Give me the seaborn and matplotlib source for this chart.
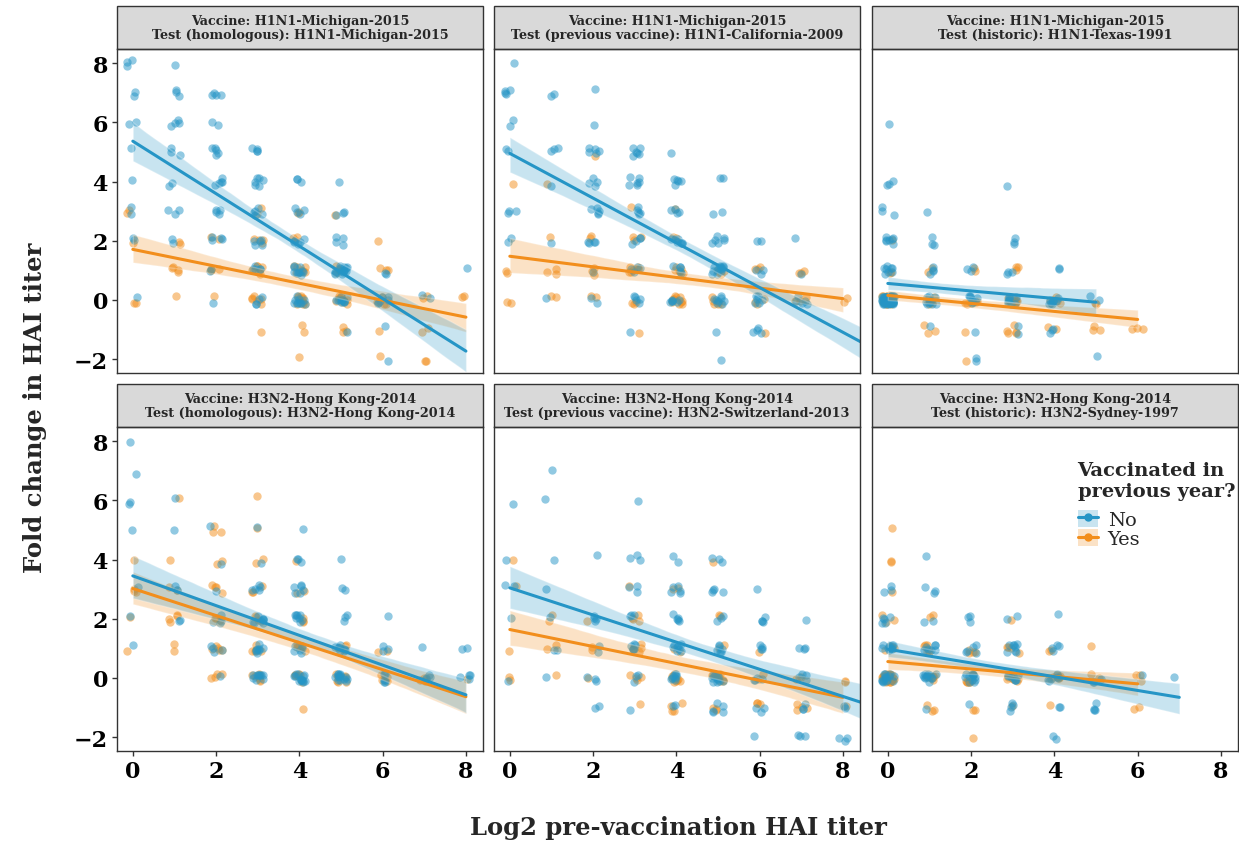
import numpy as np
import pandas as pd
import matplotlib.pyplot as plt
import seaborn as sns
from matplotlib.patches import Rectangle, Patch
from matplotlib.lines import Line2D
from matplotlib.collections import PolyCollection

# subjects per cell: rows = fold change 8 .. -2, columns = log2 pre-vaccination titer 0 .. 9
fold_levels = [8, 7, 6, 5, 4, 3, 2, 1, 0, -1, -2]
titer_levels = [0, 1, 2, 3, 4, 5, 6, 7, 8, 9]

vaccine_names = ['H1N1-Michigan-2015'] * 3 + ['H3N2-Hong Kong-2014'] * 3
test_types = ['homologous', 'previous vaccine', 'historic'] * 2
test_strains = ['H1N1-Michigan-2015', 'H1N1-California-2009', 'H1N1-Texas-1991',
                'H3N2-Hong Kong-2014', 'H3N2-Switzerland-2013', 'H3N2-Sydney-1997']

h1_homologous_no = [
    [3, 1, 0, 0, 0, 0, 0, 0, 0, 0],
    [2, 3, 4, 0, 0, 0, 0, 0, 0, 0],
    [2, 4, 2, 0, 0, 0, 0, 0, 0, 0],
    [1, 3, 5, 4, 0, 0, 0, 0, 0, 0],
    [1, 2, 5, 6, 3, 1, 0, 0, 0, 0],
    [2, 3, 4, 5, 4, 3, 0, 0, 0, 0],
    [2, 2, 4, 5, 5, 4, 0, 0, 0, 0],
    [0, 0, 2, 5, 10, 14, 2, 0, 1, 0],
    [1, 0, 1, 4, 10, 10, 6, 2, 0, 0],
    [0, 0, 0, 0, 0, 1, 1, 0, 0, 0],
    [0, 0, 0, 0, 0, 0, 1, 0, 0, 0],
]
h1_homologous_yes = [
    [0, 0, 0, 0, 0, 0, 0, 0, 0, 0],
    [0, 0, 0, 0, 0, 0, 0, 0, 0, 0],
    [0, 0, 0, 0, 0, 0, 0, 0, 0, 0],
    [0, 0, 0, 0, 0, 0, 0, 0, 0, 0],
    [0, 0, 0, 0, 0, 0, 0, 0, 0, 0],
    [2, 0, 0, 2, 2, 1, 0, 0, 0, 0],
    [1, 2, 2, 4, 3, 0, 1, 0, 0, 0],
    [0, 4, 3, 6, 8, 4, 3, 0, 0, 0],
    [2, 1, 1, 6, 10, 10, 4, 2, 2, 0],
    [0, 0, 0, 1, 2, 3, 1, 2, 0, 0],
    [0, 0, 0, 0, 1, 0, 1, 2, 0, 0],
]
h1_previous_no = [
    [1, 0, 0, 0, 0, 0, 0, 0, 0, 0],
    [4, 2, 1, 0, 0, 0, 0, 0, 0, 0],
    [2, 0, 1, 0, 0, 0, 0, 0, 0, 0],
    [2, 3, 5, 6, 1, 0, 0, 0, 0, 0],
    [0, 1, 4, 6, 5, 2, 0, 0, 0, 0],
    [3, 0, 5, 5, 4, 2, 0, 0, 0, 0],
    [2, 1, 4, 4, 7, 6, 2, 1, 0, 0],
    [0, 0, 1, 4, 5, 12, 3, 1, 0, 0],
    [0, 1, 2, 5, 6, 8, 6, 5, 0, 0],
    [0, 0, 0, 1, 0, 1, 4, 0, 0, 0],
    [0, 0, 0, 0, 0, 1, 0, 0, 0, 2],
]
h1_previous_yes = [
    [0, 0, 0, 0, 0, 0, 0, 0, 0, 0],
    [0, 0, 0, 0, 0, 0, 0, 0, 0, 0],
    [0, 0, 0, 0, 0, 0, 0, 0, 0, 0],
    [0, 0, 1, 0, 0, 0, 0, 0, 0, 0],
    [1, 1, 0, 0, 0, 0, 0, 0, 0, 0],
    [0, 0, 0, 1, 1, 0, 0, 0, 0, 0],
    [0, 1, 2, 3, 2, 0, 0, 0, 0, 0],
    [2, 3, 3, 6, 6, 4, 3, 3, 0, 0],
    [2, 2, 2, 3, 10, 6, 3, 3, 2, 0],
    [0, 0, 0, 1, 0, 0, 1, 0, 0, 0],
    [0, 0, 0, 0, 0, 0, 0, 0, 0, 0],
]
h1_historic_no = [
    [0, 0, 0, 0, 0, 0, 0, 0, 0, 0],
    [0, 0, 0, 0, 0, 0, 0, 0, 0, 0],
    [1, 0, 0, 0, 0, 0, 0, 0, 0, 0],
    [0, 0, 0, 0, 0, 0, 0, 0, 0, 0],
    [3, 0, 0, 1, 0, 0, 0, 0, 0, 0],
    [3, 1, 0, 0, 0, 0, 0, 0, 0, 0],
    [7, 3, 0, 3, 0, 0, 0, 0, 0, 0],
    [8, 4, 3, 3, 2, 0, 0, 0, 0, 0],
    [70, 10, 8, 8, 8, 2, 0, 0, 0, 0],
    [0, 1, 1, 2, 3, 0, 0, 0, 0, 0],
    [0, 0, 2, 0, 0, 1, 0, 0, 0, 0],
]
h1_historic_yes = [
    [0, 0, 0, 0, 0, 0, 0, 0, 0, 0],
    [0, 0, 0, 0, 0, 0, 0, 0, 0, 0],
    [0, 0, 0, 0, 0, 0, 0, 0, 0, 0],
    [0, 0, 0, 0, 0, 0, 0, 0, 0, 0],
    [0, 0, 0, 0, 0, 0, 0, 0, 0, 0],
    [0, 0, 0, 0, 0, 0, 0, 0, 0, 0],
    [1, 0, 0, 0, 0, 0, 0, 0, 0, 0],
    [2, 2, 2, 3, 0, 0, 0, 0, 0, 0],
    [25, 5, 5, 8, 5, 2, 0, 0, 0, 0],
    [0, 3, 1, 5, 2, 3, 3, 0, 0, 0],
    [0, 0, 1, 0, 0, 0, 0, 0, 0, 0],
]
h3_homologous_no = [
    [1, 0, 0, 0, 0, 0, 0, 0, 0, 0],
    [1, 0, 0, 0, 0, 0, 0, 0, 0, 0],
    [2, 1, 0, 0, 0, 0, 0, 0, 0, 0],
    [1, 1, 1, 1, 1, 0, 0, 0, 0, 0],
    [0, 0, 1, 1, 3, 1, 0, 0, 0, 0],
    [1, 2, 1, 5, 6, 2, 0, 0, 0, 0],
    [1, 2, 4, 8, 8, 3, 1, 0, 0, 0],
    [1, 0, 4, 8, 6, 8, 3, 1, 2, 0],
    [0, 0, 1, 10, 14, 14, 6, 4, 4, 0],
    [0, 0, 0, 0, 0, 0, 0, 0, 0, 0],
    [0, 0, 0, 0, 0, 0, 0, 0, 0, 0],
]
h3_homologous_yes = [
    [0, 0, 0, 0, 0, 0, 0, 0, 0, 0],
    [0, 0, 0, 0, 0, 0, 0, 0, 0, 0],
    [0, 1, 0, 1, 0, 0, 0, 0, 0, 0],
    [0, 0, 3, 1, 0, 0, 0, 0, 0, 0],
    [1, 1, 2, 2, 1, 0, 0, 0, 0, 0],
    [3, 2, 4, 3, 2, 0, 0, 0, 0, 0],
    [1, 4, 3, 3, 3, 0, 0, 0, 0, 0],
    [1, 2, 5, 5, 5, 3, 2, 0, 0, 0],
    [0, 0, 4, 6, 6, 7, 4, 3, 1, 0],
    [0, 0, 0, 0, 1, 0, 0, 0, 0, 0],
    [0, 0, 0, 0, 0, 0, 0, 0, 0, 0],
]
h3_previous_no = [
    [0, 0, 0, 0, 0, 0, 0, 0, 0, 0],
    [0, 1, 0, 0, 0, 0, 0, 0, 0, 0],
    [1, 1, 0, 1, 0, 0, 0, 0, 0, 0],
    [0, 0, 0, 0, 0, 0, 0, 0, 0, 0],
    [1, 1, 1, 3, 2, 3, 0, 0, 0, 0],
    [2, 1, 0, 3, 5, 4, 1, 0, 0, 0],
    [1, 1, 4, 3, 5, 3, 4, 1, 0, 0],
    [0, 2, 2, 6, 8, 6, 4, 3, 0, 0],
    [1, 1, 3, 3, 8, 13, 4, 4, 0, 0],
    [0, 0, 2, 1, 2, 5, 3, 3, 2, 0],
    [0, 0, 0, 0, 0, 0, 1, 3, 3, 1],
]
h3_previous_yes = [
    [0, 0, 0, 0, 0, 0, 0, 0, 0, 0],
    [0, 0, 0, 0, 0, 0, 0, 0, 0, 0],
    [0, 0, 0, 0, 0, 0, 0, 0, 0, 0],
    [0, 0, 0, 0, 0, 0, 0, 0, 0, 0],
    [1, 0, 0, 0, 0, 1, 0, 0, 0, 0],
    [1, 0, 0, 1, 2, 0, 0, 0, 0, 0],
    [0, 2, 1, 4, 0, 2, 0, 0, 0, 0],
    [1, 2, 2, 4, 2, 2, 1, 0, 0, 0],
    [2, 1, 1, 4, 8, 6, 2, 2, 2, 0],
    [0, 0, 0, 1, 4, 3, 3, 4, 1, 0],
    [0, 0, 0, 0, 0, 0, 0, 0, 0, 0],
]
h3_historic_no = [
    [0, 0, 0, 0, 0, 0, 0, 0, 0, 0],
    [0, 0, 0, 0, 0, 0, 0, 0, 0, 0],
    [0, 0, 0, 0, 0, 0, 0, 0, 0, 0],
    [0, 0, 0, 0, 0, 0, 0, 0, 0, 0],
    [0, 1, 0, 0, 0, 0, 0, 0, 0, 0],
    [3, 3, 0, 0, 0, 0, 0, 0, 0, 0],
    [5, 2, 3, 2, 1, 0, 0, 0, 0, 0],
    [10, 7, 5, 8, 4, 0, 0, 0, 0, 0],
    [15, 12, 12, 8, 6, 3, 1, 1, 0, 0],
    [0, 1, 1, 4, 2, 4, 0, 0, 0, 0],
    [0, 0, 0, 0, 2, 0, 0, 0, 0, 0],
]
h3_historic_yes = [
    [0, 0, 0, 0, 0, 0, 0, 0, 0, 0],
    [0, 0, 0, 0, 0, 0, 0, 0, 0, 0],
    [0, 0, 0, 0, 0, 0, 0, 0, 0, 0],
    [1, 0, 0, 0, 0, 0, 0, 0, 0, 0],
    [2, 0, 0, 0, 0, 0, 0, 0, 0, 0],
    [1, 0, 0, 0, 0, 0, 0, 0, 0, 0],
    [3, 2, 0, 1, 0, 0, 0, 0, 0, 0],
    [4, 6, 4, 4, 2, 1, 0, 0, 0, 0],
    [32, 8, 8, 8, 5, 2, 3, 0, 0, 0],
    [0, 3, 2, 1, 1, 0, 2, 0, 0, 0],
    [0, 0, 1, 0, 0, 0, 0, 0, 0, 0],
]

panels = [
    (h1_homologous_no, h1_homologous_yes),
    (h1_previous_no, h1_previous_yes),
    (h1_historic_no, h1_historic_yes),
    (h3_homologous_no, h3_homologous_yes),
    (h3_previous_no, h3_previous_yes),
    (h3_historic_no, h3_historic_yes),
]


def expand(grid):
    counts = np.array(grid).ravel()
    yy, xx = np.meshgrid(fold_levels, titer_levels, indexing='ij')
    return pd.DataFrame({'titer': np.repeat(xx.ravel(), counts),
                         'fold': np.repeat(yy.ravel(), counts)})


blue = '#2595c6'
orange = '#f28e1c'
edge = '#333333'

sns.set_style('white')
plt.rcParams['font.family'] = ['DejaVu Serif']
np.random.seed(11)

W, H = 1239, 845
fig = plt.figure(figsize=(W / 100, H / 100), dpi=100)
col_left = [117, 494, 872]
row_top = [50, 428]
pw, ph, strip_h = 366, 324, 43

for k, (grid_no, grid_yes) in enumerate(panels):
    r, c = divmod(k, 3)
    ax = fig.add_axes([col_left[c] / W, 1 - (row_top[r] + ph) / H, pw / W, ph / H])
    no = expand(grid_no)
    yes = expand(grid_yes)

    # jittered points first, then the fitted lines on top (as in ggplot layers)
    for df, col in [(yes, orange), (no, blue)]:
        sns.regplot(data=df, x='titer', y='fold', ax=ax, fit_reg=False,
                    x_jitter=0.15, y_jitter=0.15, color=col,
                    scatter_kws=dict(s=36, alpha=0.5, linewidths=0))
    for df, col in [(yes, orange), (no, blue)]:
        sns.regplot(data=df, x='titer', y='fold', ax=ax, scatter=False,
                    color=col, line_kws=dict(lw=2.2), seed=1)
    for coll in ax.collections:
        if isinstance(coll, PolyCollection):
            coll.set_alpha(0.25)

    ax.set_xlim(-0.38, 8.41)
    ax.set_ylim(-2.47, 8.48)
    ax.set_xlabel('')
    ax.set_ylabel('')
    ax.set_xticks([0, 2, 4, 6, 8])
    ax.set_yticks([-2, 0, 2, 4, 6, 8])
    ax.tick_params(direction='out', length=3.5, width=1, color=edge,
                   labelsize=16, labelcolor='black', pad=3,
                   bottom=(r == 1), labelbottom=(r == 1),
                   left=(c == 0), labelleft=(c == 0))
    plt.setp(ax.get_xticklabels() + ax.get_yticklabels(), fontweight='bold')
    for s in ax.spines.values():
        s.set_color(edge)
        s.set_linewidth(1)

    ax.add_patch(Rectangle((0, 1), 1, strip_h / ph, transform=ax.transAxes,
                           clip_on=False, facecolor='#d9d9d9', edgecolor=edge, lw=1))
    ax.text(0.5, 1 + strip_h / ph / 2,
            f'Vaccine: {vaccine_names[k]}\nTest ({test_types[k]}): {test_strains[k]}',
            transform=ax.transAxes, ha='center', va='center',
            fontsize=9.2, fontweight='bold', linespacing=1.15)

    if k == 5:
        handles = [
            (Patch(facecolor=blue, alpha=0.25, edgecolor='none'),
             Line2D([], [], color=blue, lw=2.2, marker='o', ms=5)),
            (Patch(facecolor=orange, alpha=0.25, edgecolor='none'),
             Line2D([], [], color=orange, lw=2.2, marker='o', ms=5)),
        ]
        leg = ax.legend(handles, ['No', 'Yes'], title='Vaccinated in\nprevious year?',
                        loc='upper left', bbox_to_anchor=(0.535, 0.925), frameon=False,
                        fontsize=14, title_fontproperties={'weight': 'bold', 'size': 14},
                        alignment='left', handlelength=1.05, handleheight=1.0,
                        handletextpad=0.5, labelspacing=0.0, borderpad=0)
        leg._legend_box.sep = 7

fig.text(35 / W, 1 - 408 / H, 'Fold change in HAI titer', rotation=90,
         ha='center', va='center', fontsize=17.5, fontweight='bold')
fig.text(678 / W, 1 - 828 / H, 'Log2 pre-vaccination HAI titer',
         ha='center', va='center', fontsize=17.5, fontweight='bold')

fig.savefig('out.png', dpi=100)
